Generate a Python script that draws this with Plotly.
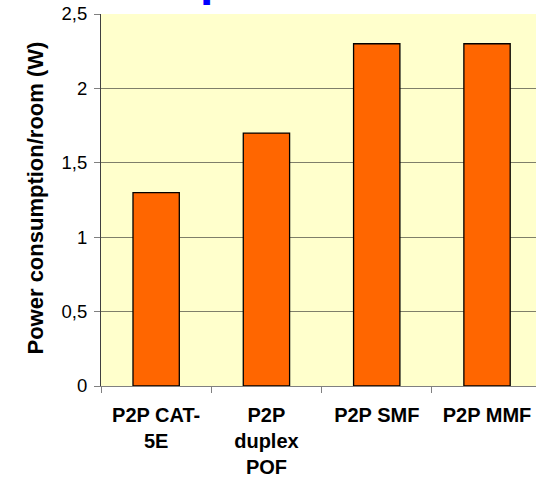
import plotly.graph_objects as go

# Power consumption per room for each point-to-point link type
categories = ["P2P CAT-<br>5E", "P2P<br>duplex<br>POF", "P2P SMF", "P2P MMF"]
power_w = [1.3, 1.7, 2.3, 2.3]
y_ticks = [0, 0.5, 1, 1.5, 2, 2.5]

W, H = 536, 480
M_L, M_R, M_T, M_B = 101, 0, 14, 94
plot_w = W - M_L - M_R
plot_h = H - M_T - M_B

FONT = "Arial, Liberation Sans, sans-serif"

fig = go.Figure(
    go.Bar(
        x=categories,
        y=power_w,
        marker=dict(color="#FF6600", line=dict(color="#000000", width=1.3)),
        width=0.42,
    )
)

fig.update_layout(
    width=W,
    height=H,
    margin=dict(l=M_L, r=M_R, t=M_T, b=M_B, pad=0),
    paper_bgcolor="#FFFFFF",
    plot_bgcolor="#FFFFCC",
    separators=",.",
    showlegend=False,
    font=dict(family=FONT, color="#000000"),
)

fig.update_xaxes(
    type="category",
    range=[-0.5, 3.444],
    tickson="boundaries",
    ticks="outside",
    ticklen=6,
    tickcolor="#808080",
    showline=True,
    linecolor="#808080",
    linewidth=1,
    showgrid=False,
    ticklabelstandoff=11,
    tickfont=dict(family=FONT, size=20, color="#000000", weight="bold"),
)

fig.update_yaxes(
    range=[0, 2.5],
    tickvals=y_ticks,
    ticks="outside",
    ticklen=6,
    tickcolor="#808080",
    showline=True,
    linecolor="#404040",
    linewidth=1,
    showgrid=True,
    gridcolor="#7F7F6A",
    gridwidth=1,
    zeroline=False,
    ticklabelstandoff=3,
    tickfont=dict(family=FONT, size=18.5, color="#000000"),
)

# Rotated axis title
fig.add_annotation(
    text="<b>Power consumption/room (W)</b>",
    textangle=-90,
    xref="paper", yref="paper",
    x=(35 - M_L) / plot_w, y=(M_T + plot_h - 198.5) / plot_h,
    xanchor="center", yanchor="middle",
    showarrow=False,
    font=dict(family=FONT, size=22, color="#000000"),
)

# Heading text above the plot area
fig.add_annotation(
    text="<b>p</b>",
    xref="paper", yref="paper",
    x=(198 - M_L) / plot_w, y=(M_T + plot_h + 21.1) / plot_h,
    xanchor="left", yanchor="middle",
    showarrow=False,
    font=dict(family=FONT, size=48, color="#0000FF"),
)

fig.write_html("out.html")
